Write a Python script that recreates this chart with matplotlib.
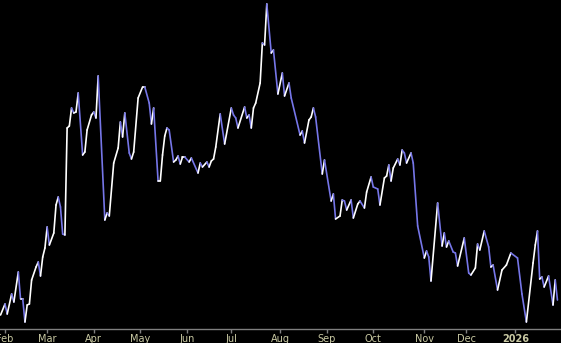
import numpy as np
import pandas as pd
import matplotlib
matplotlib.use('Agg')
import matplotlib.pyplot as plt
from matplotlib.collections import LineCollection

# session index (trading days since 2025-01-30) and closing price at turning points
days = [0, 2, 3, 5, 6, 8, 9, 10, 11, 12,
        13, 14, 16, 17, 18, 19, 20, 21, 22, 24,
        25, 26, 27, 28, 29, 30, 31, 32, 33, 34,
        35, 37, 38, 39, 41, 42, 43, 44, 47, 48,
        49, 51, 53, 54, 55, 56, 58, 59, 60, 62,
        64, 65, 67, 68, 69, 71, 72, 73, 74, 75,
        76, 78, 79, 80, 81, 82, 83, 85, 86, 89,
        90, 91, 93, 94, 95, 96, 97, 99, 101, 104,
        105, 106, 107, 110, 111, 112, 113, 114, 115, 117,
        118, 119, 120, 122, 123, 125, 127, 128, 130, 131,
        135, 136, 137, 139, 140, 141, 142, 145, 146, 149,
        150, 151, 153, 154, 155, 156, 158, 159, 161, 162,
        164, 165, 167, 168, 170, 171, 173, 174, 175, 176,
        177, 179, 180, 181, 182, 183, 185, 186, 188, 191,
        192, 193, 194, 197, 199, 200, 201, 202, 204, 205,
        206, 209, 211, 212, 214, 215, 216, 218, 220, 221,
        222, 224, 226, 228, 230, 233, 235, 237, 240, 241,
        242, 243, 244, 245, 247, 249, 250, 251]
close = [41.4, 42.5, 41.5, 43.5, 42.7, 45.7, 43.0, 43.0, 40.7, 42.4,
         42.5, 44.9, 46.2, 46.7, 45.3, 47.2, 48.1, 50.2, 48.4, 49.6,
         52.4, 53.2, 52.2, 49.5, 49.4, 60.1, 60.3, 62.1, 61.6, 61.7,
         63.6, 57.4, 57.7, 59.9, 61.4, 61.7, 61.1, 65.3, 50.9, 51.6,
         51.3, 56.6, 58.1, 60.7, 59.2, 61.6, 57.6, 57.0, 57.7, 63.1,
         64.2, 64.2, 62.6, 60.5, 62.1, 54.8, 54.8, 57.4, 59.3, 60.1,
         59.9, 56.7, 56.9, 57.3, 56.5, 57.2, 57.2, 56.7, 57.1, 55.6,
         56.6, 56.2, 56.7, 56.2, 56.8, 57.0, 58.2, 61.5, 58.5, 62.1,
         61.4, 61.1, 60.1, 62.2, 61.1, 61.4, 60.1, 62.1, 62.6, 64.6,
         68.6, 68.4, 72.5, 67.6, 67.9, 63.5, 65.6, 63.3, 64.6, 63.1,
         59.4, 59.8, 58.6, 60.9, 61.2, 62.1, 61.2, 55.5, 56.9, 52.8,
         53.5, 51.0, 51.3, 52.9, 52.8, 51.9, 52.9, 51.1, 52.5, 52.8,
         52.1, 53.7, 55.2, 54.2, 54.0, 52.4, 55.1, 55.3, 56.4, 54.8,
         56.1, 57.0, 56.4, 57.9, 57.6, 56.6, 57.6, 56.6, 50.3, 47.1,
         47.8, 47.2, 44.8, 52.6, 48.3, 49.6, 48.2, 48.8, 47.7, 47.6,
         46.3, 49.1, 45.6, 45.4, 46.1, 48.5, 47.9, 49.8, 48.2, 46.2,
         46.4, 43.9, 45.9, 46.4, 47.6, 47.1, 43.5, 40.7, 46.6, 48.4,
         49.8, 45.0, 45.2, 44.2, 45.3, 42.4, 44.9, 42.9]

holidays = ['2025-02-17', '2025-04-18', '2025-05-26', '2025-06-19',
            '2025-07-04', '2025-09-01', '2025-11-27', '2025-12-25',
            '2026-01-01', '2026-01-19']

sessions = pd.bdate_range('2025-01-30', '2026-01-30', freq='C',
                          holidays=holidays)

# first session of each month -> tick
month_pos = [i for i in range(1, len(sessions))
             if sessions[i].month != sessions[i - 1].month]
month_lab = [sessions[i].strftime('%Y') if sessions[i].month == 1
             else sessions[i].strftime('%b') for i in month_pos]

x = np.array(days, dtype=float)
y = np.array(close)
segs = np.stack([np.column_stack([x[:-1], y[:-1]]),
                 np.column_stack([x[1:], y[1:]])], axis=1)
cols = ['#ffffff' if b >= a else '#7676e8' for a, b in zip(y[:-1], y[1:])]

fig = plt.figure(figsize=(5.61, 3.43), dpi=100, facecolor='black')
ax = fig.add_axes([0, 14 / 343, 1, 329 / 343], facecolor='black')

lc = LineCollection(segs, colors=cols, linewidths=1.2, capstyle='round',
                    joinstyle='round')
ax.add_collection(lc)

ax.set_xlim(-0.25, 252.6)
ax.set_ylim(40, 72.9)

for s in ['top', 'left', 'right']:
    ax.spines[s].set_visible(False)
ax.spines['bottom'].set_color('#7f7f7f')
ax.spines['bottom'].set_linewidth(1)

ax.set_yticks([])
ax.set_xticks(month_pos)
ax.set_xticklabels(month_lab)
ax.tick_params(axis='x', direction='out', length=3, width=1,
               color='#7f7f7f', labelcolor='#c9c9a3', labelsize=7, pad=0.5)
for lab in ax.get_xticklabels():
    if lab.get_text().isdigit():
        lab.set_fontweight('bold')

fig.savefig('out.png', dpi=100, facecolor='black')
